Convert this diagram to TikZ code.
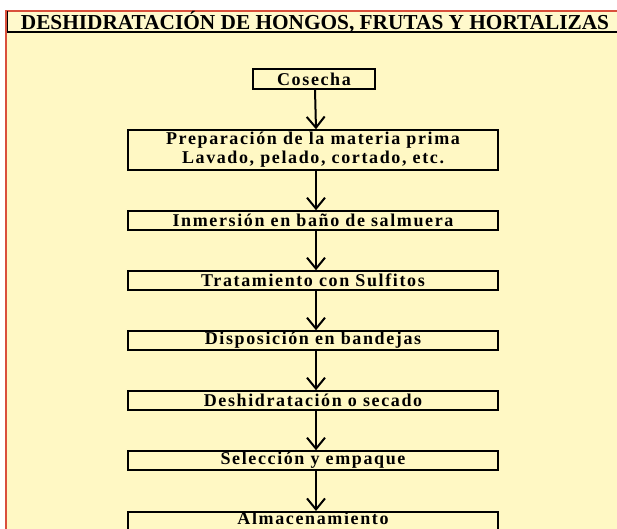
\documentclass[tikz,border=0pt]{standalone}
\usepackage{fontspec}
\setmainfont{Liberation Serif}
\usetikzlibrary{arrows.meta}
\definecolor{bgyellow}{HTML}{FFF8C4}
\definecolor{titleyellow}{HTML}{FFF9CC}
\definecolor{framered}{HTML}{D9503C}
\tikzset{
  stepbox/.style={draw=black, line width=1.5pt, minimum width=370pt, minimum height=19pt,
    inner sep=0pt, align=center, font=\fontsize{18}{19}\selectfont\bfseries\addfontfeatures{LetterSpace=9}},
  flowarrow/.style={line width=2pt, -{Straight Barb[length=11pt,width=18pt,line width=2pt]}}
}
\begin{document}
\begin{tikzpicture}[x=1pt,y=-1pt]
\useasboundingbox (0,0) rectangle (617,528);
\fill[white] (0,0) rectangle (617,528);
% frame
\fill[bgyellow] (5,10) rectangle (625,535);
\fill[titleyellow] (6,11) rectangle (625,31);
\draw[framered, line width=2pt] (5.5,535) -- (5.5,10.5) -- (625,10.5);
\draw[black, line width=1.2pt] (7.5,11) -- (7.5,31);
\draw[black, line width=2pt] (6.5,31.5) -- (625,31.5);
\node[font=\fontsize{21.3}{24}\selectfont\bfseries] (title) at (315,22) {DESHIDRATACIÓN DE HONGOS, FRUTAS Y HORTALIZAS};
% boxes
\node[stepbox, minimum width=122pt, minimum height=20pt] (cosecha) at (314,79) {Cosecha};
\node[stepbox, minimum height=40pt] (prep) at (313,150) {Preparación de la materia prima\\Lavado, pelado, cortado, etc.};
\node[stepbox] (inm) at (313,220.5) {Inmersión en baño de salmuera};
\node[stepbox] (trat) at (313,280.5) {Tratamiento con Sulfitos};
\node[stepbox] (disp) at (313,340.5) {Disposición en bandejas};
\node[stepbox] (desh) at (313,400.5) {Deshidratación o secado};
\node[stepbox] (sel) at (313,460.5) {Selección y empaque};
\node[stepbox, anchor=north, text height=12.5pt, text depth=9.5pt] (alm) at (313,511) {Almacenamiento};
% arrows
\draw[flowarrow] ([xshift=1pt]cosecha.south) -- ([xshift=3pt]prep.north);
\draw[flowarrow] ([xshift=3pt]prep.south) -- ([xshift=3pt]inm.north);
\draw[flowarrow] ([xshift=3pt]inm.south) -- ([xshift=3pt]trat.north);
\draw[flowarrow] ([xshift=3pt]trat.south) -- ([xshift=3pt]disp.north);
\draw[flowarrow] ([xshift=3pt]disp.south) -- ([xshift=3pt]desh.north);
\draw[flowarrow] ([xshift=3pt]desh.south) -- ([xshift=3pt]sel.north);
\draw[flowarrow] ([xshift=3pt]sel.south) -- ([xshift=3pt]alm.north);
\end{tikzpicture}
\end{document}
